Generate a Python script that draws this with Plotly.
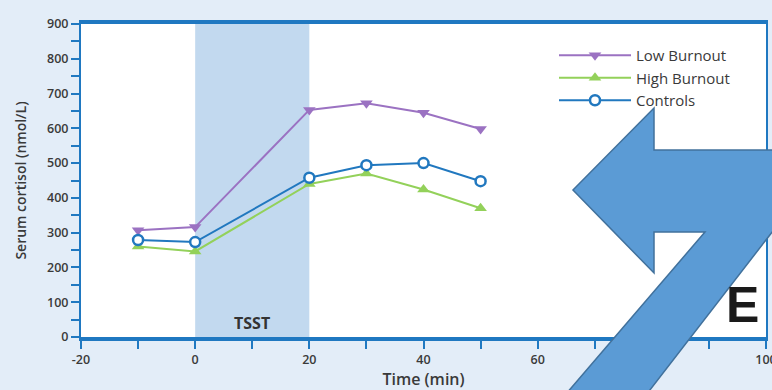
import plotly.graph_objects as go

# Sampling times (min) relative to TSST onset
time_min = [-10, 0, 20, 30, 40, 50]

# Serum cortisol (nmol/L) per group
low_burnout = [307, 316, 653, 672, 645, 598]
high_burnout = [260, 246, 440, 470, 424, 370]
controls = [279, 273, 458, 494, 500, 448]

# TSST window (min)
tsst_start, tsst_end = 0, 20

x_ticks = [-20, 0, 20, 40, 60, 80, 100]
y_ticks = [0, 100, 200, 300, 400, 500, 600, 700, 800, 900]

AXIS_BLUE = "#1f78c1"
PURPLE = "#9b72c2"
GREEN = "#93d15a"
BLUE = "#2178bf"
FONT = "Open Sans"
TEXT = "#3a3a3a"

W, H = 772, 390
L, R, T, B = 81, 6, 24, 53


def to_paper(px, py):
    """Convert window pixel position to paper coordinates."""
    return (px - L) / (W - L - R), (H - B - py) / (H - T - B)


fig = go.Figure()

fig.add_trace(go.Scatter(
    x=time_min, y=low_burnout, name="Low Burnout", mode="lines+markers",
    line=dict(color=PURPLE, width=2),
    marker=dict(symbol="triangle-down", size=11, color=PURPLE),
))
fig.add_trace(go.Scatter(
    x=time_min, y=high_burnout, name="High Burnout", mode="lines+markers",
    line=dict(color=GREEN, width=2),
    marker=dict(symbol="triangle-up", size=11, color=GREEN),
))
fig.add_trace(go.Scatter(
    x=time_min, y=controls, name="Controls", mode="lines+markers",
    line=dict(color=BLUE, width=2),
    marker=dict(symbol="circle", size=10, color="white",
                line=dict(color=BLUE, width=2.5)),
))

# Stress-test window shading
fig.add_shape(type="rect", xref="x", yref="paper",
              x0=tsst_start, x1=tsst_end, y0=0, y1=1,
              fillcolor="#c2d9ef", line_width=0, layer="below")

fig.add_annotation(x=(tsst_start + tsst_end) / 2, y=40, text="<b>TSST</b>",
                   showarrow=False, font=dict(family=FONT, size=16, color="#333333"))

fig.add_annotation(x=95.9, y=92, text="<b>E</b>", showarrow=False,
                   font=dict(family="Liberation Sans Narrow, Liberation Sans",
                             size=50, color="#1a1a1a"))

# Bent block arrow overlay
arrow_px = [(573, 190), (654, 108), (654, 150), (800, 150), (800, 196),
            (636, 408), (554, 408), (705, 232), (654, 232), (654, 273)]
pts = [to_paper(px, py) for px, py in arrow_px]
path = "M " + " L ".join(f"{x:.4f},{y:.4f}" for x, y in pts) + " Z"
fig.add_shape(type="path", xref="paper", yref="paper", path=path,
              fillcolor="#5b9bd5", line=dict(color="#41719c", width=1.5),
              layer="above")

fig.update_xaxes(
    range=[-20, 100], tickvals=x_ticks, ticktext=[str(v) for v in x_ticks],
    showgrid=False, zeroline=False,
    showline=True, linecolor=AXIS_BLUE, linewidth=3.5, mirror=True,
    ticks="outside", ticklen=8, tickwidth=2, tickcolor=AXIS_BLUE,
    minor=dict(dtick=10, tick0=0, ticks="outside", ticklen=8, tickwidth=2,
               tickcolor=AXIS_BLUE, showgrid=False),
    tickfont=dict(family=FONT, size=12.5, color=TEXT, weight=600),
    ticklabeloverflow="allow",
    title=dict(text="Time (min)", standoff=8,
               font=dict(family=FONT, size=16, color=TEXT, weight=600)),
    automargin=False,
)
fig.update_yaxes(
    range=[0, 900], tickvals=y_ticks, ticktext=[str(v) for v in y_ticks],
    showgrid=False, zeroline=False,
    showline=True, linecolor=AXIS_BLUE, linewidth=2, mirror=True,
    ticks="outside", ticklen=8, tickwidth=2, tickcolor=AXIS_BLUE,
    minor=dict(dtick=50, tick0=0, ticks="outside", ticklen=8, tickwidth=2,
               tickcolor=AXIS_BLUE, showgrid=False),
    tickfont=dict(family=FONT, size=12.5, color=TEXT, weight=600),
    title=dict(text="Serum cortisol (nmol/L)", standoff=17,
               font=dict(family=FONT, size=14, color=TEXT, weight=600)),
    automargin=False,
)

lx, ly = to_paper(554, 39)
fig.update_layout(
    width=W, height=H,
    margin=dict(l=L, r=R, t=T, b=B, pad=0),
    paper_bgcolor="#e3edf8", plot_bgcolor="white",
    showlegend=True,
    legend=dict(x=lx, y=ly, xanchor="left", yanchor="top",
                bgcolor="rgba(0,0,0,0)", itemwidth=72, tracegroupgap=0,
                font=dict(family=FONT, size=15, color=TEXT)),
)

fig.write_html("out.html")
